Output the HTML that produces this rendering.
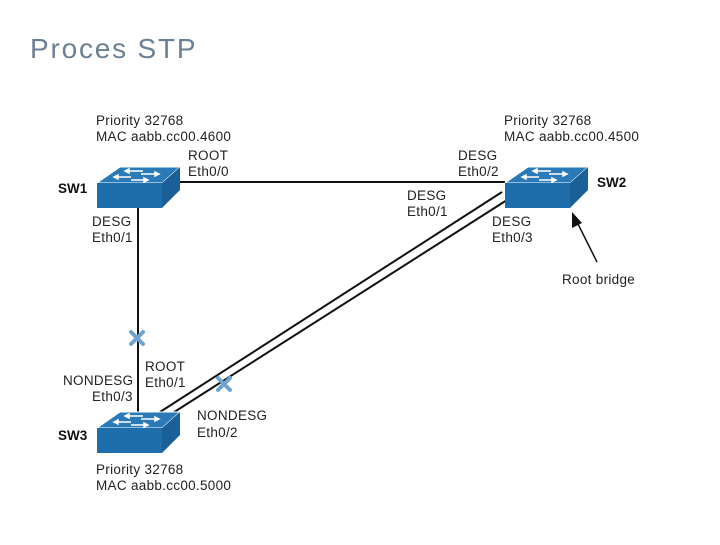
<!DOCTYPE html>
<html><head><style>
body{margin:0;width:720px;height:540px;background:#fff;overflow:hidden;font-family:"Liberation Sans",sans-serif}
</style></head><body>
<svg width="720" height="540" xmlns="http://www.w3.org/2000/svg" font-family="Liberation Sans, sans-serif">
<text x="30" y="58" font-size="28" fill="#6b7f93" letter-spacing="1.8">Proces STP</text>
<g stroke="#111" stroke-width="2" fill="none">
<line x1="180" y1="182" x2="505" y2="182"/>
<line x1="138" y1="208" x2="138" y2="412"/>
<line x1="502" y1="192" x2="160" y2="412"/>
<line x1="507" y1="200" x2="168" y2="416"/>
</g>
<g stroke="#6fa3cf" stroke-width="4" stroke-linecap="round">
<line x1="131" y1="332" x2="143" y2="344"/><line x1="143" y1="332" x2="131" y2="344"/>
<line x1="218" y1="378" x2="230" y2="390"/><line x1="230" y1="378" x2="218" y2="390"/>
</g>
<defs>
<g id="sw">
<polygon points="0,16 23,0 83,0 65,16" fill="#2a7ab8" stroke="#fff" stroke-width="1"/>
<rect x="0" y="16" width="65" height="25" fill="#1f6eac"/>
<polygon points="65,16 83,0 83,23 65,41" fill="#1a5f96"/>
<g stroke="#fff" stroke-width="1.5" fill="#fff">
<line x1="30" y1="4" x2="46" y2="4"/><polygon points="28,4 32,2 32,6"/>
<line x1="44" y1="7" x2="60" y2="7"/><polygon points="62,7 58,5 58,9"/>
<line x1="20" y1="10" x2="34" y2="10"/><polygon points="17,10 21,8 21,12"/>
<line x1="34" y1="13" x2="48" y2="13"/><polygon points="51,13 47,11 47,15"/>
</g>
</g>
</defs>
<use href="#sw" x="97" y="167"/>
<use href="#sw" x="505" y="167"/>
<use href="#sw" x="97" y="412"/>
<g font-size="13.5" fill="#222" letter-spacing="0.3">
<text x="96" y="125">Priority 32768</text><text x="96" y="141">MAC aabb.cc00.4600</text>
<text x="504" y="125">Priority 32768</text><text x="504" y="141">MAC aabb.cc00.4500</text>
<text x="96" y="474">Priority 32768</text><text x="96" y="490">MAC aabb.cc00.5000</text>
<text x="188" y="160">ROOT</text><text x="188" y="176">Eth0/0</text>
<text x="458" y="160">DESG</text><text x="458" y="176">Eth0/2</text>
<text x="407" y="200">DESG</text><text x="407" y="216">Eth0/1</text>
<text x="492" y="226">DESG</text><text x="492" y="242">Eth0/3</text>
<text x="92" y="226">DESG</text><text x="92" y="242">Eth0/1</text>
<text x="145" y="371">ROOT</text><text x="145" y="387">Eth0/1</text>
<text x="63" y="385">NONDESG</text><text x="92" y="401">Eth0/3</text>
<text x="197" y="420">NONDESG</text><text x="197" y="437">Eth0/2</text>
<text x="562" y="284">Root bridge</text>
</g>
<g font-size="13.5" font-weight="bold" fill="#111">
<text x="58" y="193">SW1</text><text x="597" y="187">SW2</text><text x="58" y="440">SW3</text>
</g>
<line x1="597" y1="262" x2="576" y2="220" stroke="#111" stroke-width="1.5"/>
<polygon points="572,212 572,228 582,223" fill="#111"/>
</svg>
</body></html>
